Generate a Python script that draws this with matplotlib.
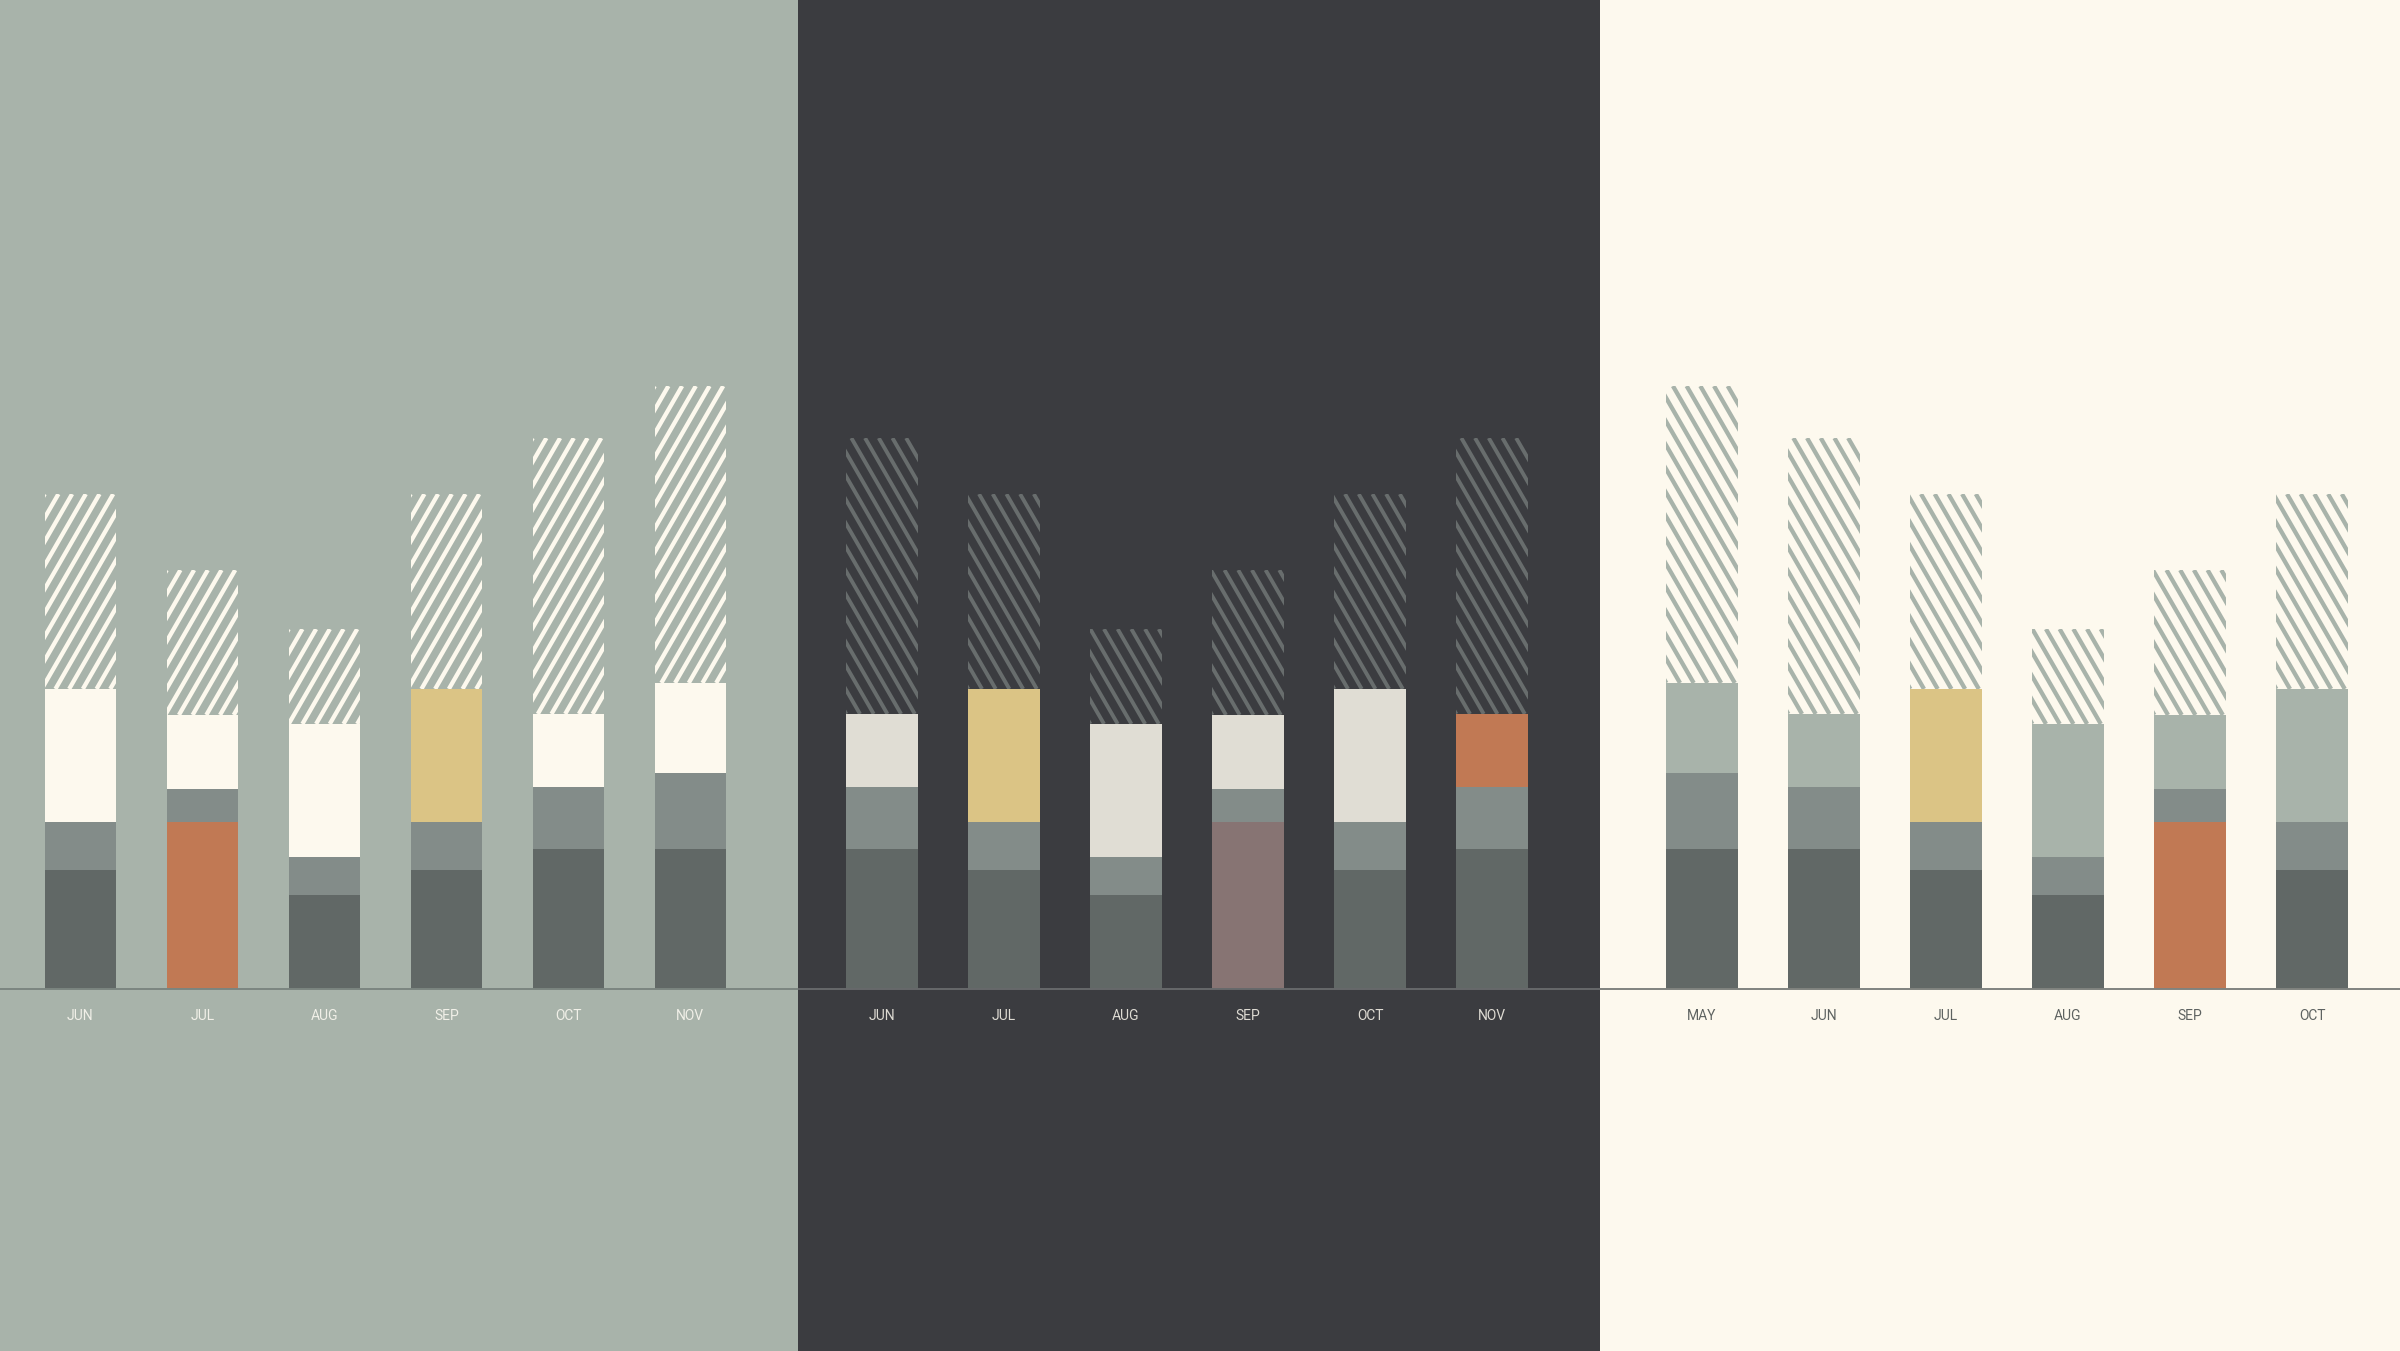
import numpy as np
import matplotlib
matplotlib.use("Agg")
import matplotlib.pyplot as plt
from matplotlib.collections import LineCollection
from matplotlib.transforms import IdentityTransform

# month labels per panel
months1 = ["JUN", "JUL", "AUG", "SEP", "OCT", "NOV"]
months2 = ["JUN", "JUL", "AUG", "SEP", "OCT", "NOV"]
months3 = ["MAY", "JUN", "JUL", "AUG", "SEP", "OCT"]

# stacked segments, bottom to top (base, mid, upper, hatched remainder)
base1 = [11.9, 16.7, 9.4, 11.9, 14.0, 14.0]
mid1 = [4.8, 3.3, 3.8, 4.8, 6.2, 7.6]
upper1 = [13.3, 7.4, 13.3, 13.3, 7.3, 9.0]
hatch1 = [19.5, 14.5, 9.5, 19.5, 27.6, 29.7]

base2 = [14.0, 11.9, 9.4, 16.7, 11.9, 14.0]
mid2 = [6.2, 4.8, 3.8, 3.3, 4.8, 6.2]
upper2 = [7.3, 13.3, 13.3, 7.4, 13.3, 7.3]
hatch2 = [27.6, 19.5, 9.5, 14.5, 19.5, 27.6]

base3 = [14.0, 14.0, 11.9, 9.4, 16.7, 11.9]
mid3 = [7.6, 6.2, 4.8, 3.8, 3.3, 4.8]
upper3 = [9.0, 7.3, 13.3, 13.3, 7.4, 13.3]
hatch3 = [29.7, 27.6, 19.5, 9.5, 14.5, 19.5]

ORANGE = "#c17954"
YELLOW = "#dbc485"
MAUVE = "#877473"
DARK = "#616866"
MID = "#838c89"

# highlighted segments (month -> colour)
base_hl1 = {"JUL": ORANGE}
upper_hl1 = {"SEP": YELLOW}
base_hl2 = {"SEP": MAUVE}
upper_hl2 = {"JUL": YELLOW, "NOV": ORANGE}
base_hl3 = {"SEP": ORANGE}
upper_hl3 = {"JUL": YELLOW}

W, H, DPI = 2400, 1351, 100
SLOT = 122.0      # px between bar centres
BAR_W = 0.585     # in slots
PX_PER_UNIT = 10.0
BASE_FROM_BOTTOM = 362


def add_hatch(ax, rect, color, direction, lw):
    """Diagonal stripes (about 60 deg) clipped to a bar segment."""
    (x0, y0), (x1, y1) = ax.transData.transform(
        [(rect.get_x(), rect.get_y()),
         (rect.get_x() + rect.get_width(), rect.get_y() + rect.get_height())])
    h = y1 - y0
    run = h / np.tan(np.radians(60))
    step = 13.7
    segs = []
    if direction == "/":
        for s in np.arange(x0 - run - step, x1 + step, step):
            segs.append([(s, y0), (s + run, y1)])
    else:
        for s in np.arange(x0 - step, x1 + run + step, step):
            segs.append([(s, y0), (s - run, y1)])
    lc = LineCollection(segs, colors=color, linewidths=lw,
                        transform=IdentityTransform(), zorder=2)
    ax.add_collection(lc, autolim=False)
    # after add_collection, otherwise the axes clip replaces this one
    lc.set_clip_path(rect)


def draw_panel(ax, months, base, mid, upper, hatch, first_offset, width_px,
               theme, base_hl, upper_hl):
    ax.set_facecolor(theme["bg"])
    ax.set_xlim(-first_offset / SLOT, (width_px - first_offset) / SLOT)
    ax.set_ylim(-BASE_FROM_BOTTOM / PX_PER_UNIT, (H - BASE_FROM_BOTTOM) / PX_PER_UNIT)
    ax.set_xticks([])
    ax.set_yticks([])
    for sp in ax.spines.values():
        sp.set_visible(False)

    x = np.arange(len(months))
    base = np.array(base)
    mid = np.array(mid)
    upper = np.array(upper)
    hatch = np.array(hatch)

    base_cols = [base_hl.get(m, DARK) for m in months]
    upper_cols = [upper_hl.get(m, theme["light"]) for m in months]

    ax.bar(x, base, BAR_W, color=base_cols, linewidth=0, zorder=1)
    ax.bar(x, mid, BAR_W, bottom=base, color=MID, linewidth=0, zorder=1)
    ax.bar(x, upper, BAR_W, bottom=base + mid, color=upper_cols,
           linewidth=0, zorder=1)
    hb = ax.bar(x, hatch, BAR_W, bottom=base + mid + upper, color="none",
                linewidth=0, zorder=1)
    for rect in hb:
        add_hatch(ax, rect, theme["hatch"], theme["dir"], theme["hatch_lw"])

    ax.axhline(0, color=theme["axis"], linewidth=1.4, zorder=3)
    for xi, m in zip(x, months):
        ax.text(xi, -27 / PX_PER_UNIT, m, ha="center", va="center",
                fontsize=10, color=theme["label"], family=["Roboto", "DejaVu Sans"])


sage_theme = {"bg": "#a8b3aa", "light": "#fdf9ee", "hatch": "#fdf9ee",
              "dir": "/", "hatch_lw": 3.1, "axis": "#7b8580", "label": "#f1f0e8"}
dark_theme = {"bg": "#3b3c40", "light": "#e0ddd4", "hatch": "#686d6d",
              "dir": "\\", "hatch_lw": 2.8, "axis": "#67696b", "label": "#dedbd3"}
cream_theme = {"bg": "#fdf9ee", "light": "#a8b3aa", "hatch": "#a8b3aa",
               "dir": "\\", "hatch_lw": 3.1, "axis": "#80837f", "label": "#5e6361"}

fig = plt.figure(figsize=(W / DPI, H / DPI), dpi=DPI)
fig.patch.set_facecolor("#fdf9ee")

ax1 = fig.add_axes([0, 0, 798 / W, 1])
ax2 = fig.add_axes([798 / W, 0, 802 / W, 1])
ax3 = fig.add_axes([1600 / W, 0, 800 / W, 1])

draw_panel(ax1, months1, base1, mid1, upper1, hatch1, 80.4, 798,
           sage_theme, base_hl1, upper_hl1)
draw_panel(ax2, months2, base2, mid2, upper2, hatch2, 84.0, 802,
           dark_theme, base_hl2, upper_hl2)
draw_panel(ax3, months3, base3, mid3, upper3, hatch3, 102.0, 800,
           cream_theme, base_hl3, upper_hl3)

fig.savefig("out.png", dpi=DPI, facecolor=fig.get_facecolor())
